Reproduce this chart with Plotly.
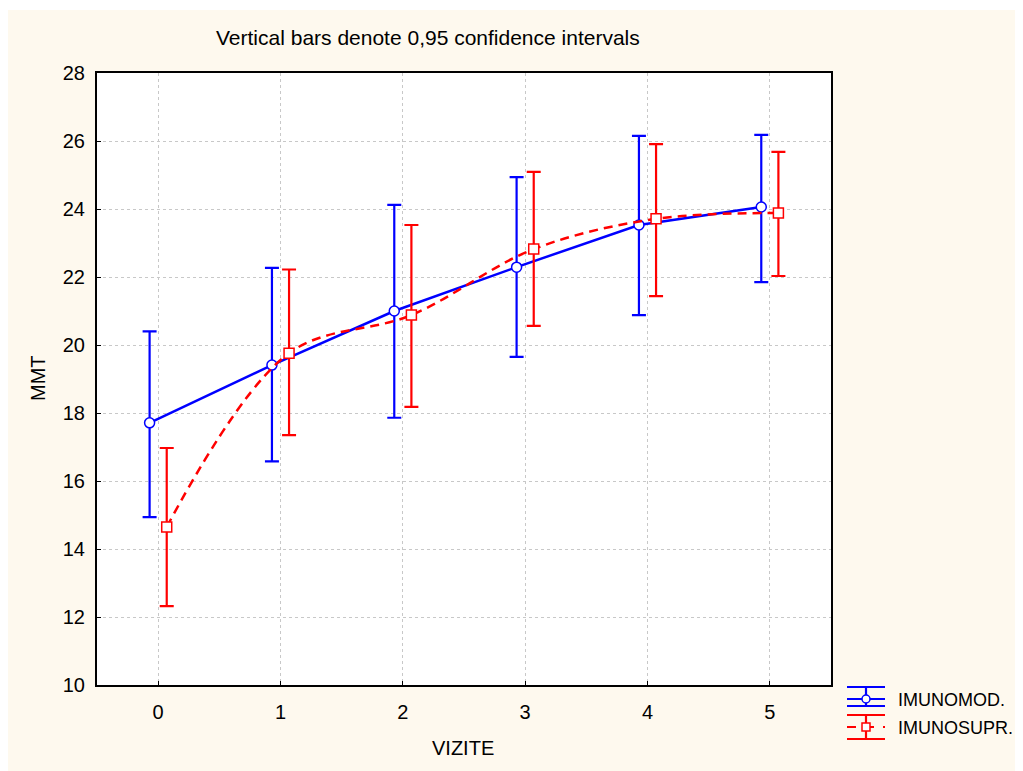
import plotly.graph_objects as go

visits = [0, 1, 2, 3, 4, 5]
tick_labels = ["0", "1", "2", "3", "4", "5"]

mod_mean = [17.71, 19.41, 21.00, 22.29, 23.53, 24.06]
mod_upper = [20.40, 22.27, 24.12, 24.94, 26.15, 26.18]
mod_lower = [14.94, 16.58, 17.86, 19.65, 20.88, 21.85]

sup_mean = [14.65, 19.76, 20.88, 22.82, 23.71, 23.88]
sup_upper = [16.97, 22.22, 23.53, 25.09, 25.91, 25.68]
sup_lower = [12.32, 17.35, 18.18, 20.56, 21.44, 22.03]

series_names = ["IMUNOMOD.", "IMUNOSUPR."]

BLUE = "#0000FF"
RED = "#FF0000"
CREAM = "#FEF9EE"
FONT = "Liberation Sans, Arial, sans-serif"

# page body margin offset (browser default 8px)
OFF = 8
W, H = 1023 - OFF, 771 - OFF
# plot area in reference page px
RL, RR, RT, RB = 97, 831, 73, 685
L, R, T, B = RL - OFF, RR - OFF, RT - OFF, RB - OFF


def px(x):  # reference page px -> paper
    return (x - OFF - L) / (R - L)


def py(y):
    return (B - (y - OFF)) / (B - T)


off = 0.07
fig = go.Figure()

fig.add_trace(go.Scatter(
    x=[v - off for v in visits], y=mod_mean, mode="lines+markers",
    name=series_names[0],
    line=dict(color=BLUE, width=2.5),
    marker=dict(symbol="circle", size=10, color="white", line=dict(color=BLUE, width=1.5)),
    error_y=dict(type="data", symmetric=False,
                 array=[u - m for u, m in zip(mod_upper, mod_mean)],
                 arrayminus=[m - l for m, l in zip(mod_mean, mod_lower)],
                 color=BLUE, thickness=2.2, width=7),
    showlegend=False,
))
fig.add_trace(go.Scatter(
    x=[v + off for v in visits], y=sup_mean, mode="lines+markers",
    name=series_names[1],
    line=dict(color=RED, width=2.5, dash="9px,6px", shape="spline", smoothing=1),
    marker=dict(symbol="square", size=10, color="white", line=dict(color=RED, width=1.5)),
    error_y=dict(type="data", symmetric=False,
                 array=[u - m for u, m in zip(sup_upper, sup_mean)],
                 arrayminus=[m - l for m, l in zip(sup_mean, sup_lower)],
                 color=RED, thickness=2.2, width=7),
    showlegend=False,
))

shapes = []
shapes.append(dict(type="rect", xref="paper", yref="paper", layer="below",
                   x0=px(7), x1=px(1030), y0=py(780), y1=py(10),
                   fillcolor=CREAM, line=dict(width=0)))
shapes.append(dict(type="rect", xref="paper", yref="paper", layer="below",
                   x0=0, x1=1, y0=0, y1=1, fillcolor="white", line=dict(width=0)))


def glyph(color, ytop, ymid, ybot, dash):
    g = []
    for yy in (ytop, ybot):
        g.append(dict(type="line", xref="paper", yref="paper",
                      x0=px(847), x1=px(885), y0=py(yy), y1=py(yy),
                      line=dict(color=color, width=2.2)))
    g.append(dict(type="line", xref="paper", yref="paper",
                  x0=px(866), x1=px(866), y0=py(ytop), y1=py(ybot),
                  line=dict(color=color, width=2.2)))
    g.append(dict(type="line", xref="paper", yref="paper",
                  x0=px(847), x1=px(885), y0=py(ymid), y1=py(ymid),
                  line=dict(color=color, width=2.2, dash=dash)))
    return g


shapes += glyph(BLUE, 687, 699, 706, "solid")
shapes += glyph(RED, 715, 727, 739, "dash")
shapes.append(dict(type="circle", xref="paper", yref="paper",
                   x0=px(862), x1=px(870), y0=py(695), y1=py(703),
                   fillcolor="white", line=dict(color=BLUE, width=1.5)))
shapes.append(dict(type="rect", xref="paper", yref="paper",
                   x0=px(862), x1=px(870), y0=py(723), y1=py(731),
                   fillcolor="white", line=dict(color=RED, width=1.5)))


def ann(text, x, y, size, xanchor="center", angle=0):
    return dict(text=text, xref="paper", yref="paper", x=px(x), y=py(y),
                showarrow=False, xanchor=xanchor, yanchor="middle", textangle=angle,
                font=dict(family=FONT, size=size, color="black"))


annotations = [
    ann("Vertical bars denote 0,95 confidence intervals", 428, 38, 21),
    ann(series_names[0], 896, 700, 18, "left"),
    ann(series_names[1], 896, 728, 18, "left"),
    ann("VIZITE", 463, 748, 20),
    ann("MMT", 38, 378, 20, angle=-90),
]

fig.update_layout(
    width=W, height=H,
    margin=dict(l=L, r=W - R, t=T, b=H - B, pad=0),
    paper_bgcolor="white", plot_bgcolor="rgba(0,0,0,0)",
    shapes=shapes, annotations=annotations,
    font=dict(family=FONT, size=20, color="black"),
    xaxis=dict(range=[-0.5, 5.5], tickvals=visits, ticktext=tick_labels,
               ticks="inside", ticklen=4, tickwidth=1, tickcolor="black",
               showline=True, linecolor="black", linewidth=2, mirror=True,
               showgrid=True, gridcolor="#c8c8c8", gridwidth=1, griddash="dot",
               zeroline=False, ticklabelstandoff=8,
               tickfont=dict(size=20)),
    yaxis=dict(range=[10, 28], dtick=2,
               ticks="inside", ticklen=4, tickwidth=1, tickcolor="black",
               showline=True, linecolor="black", linewidth=2, mirror=True,
               showgrid=True, gridcolor="#c8c8c8", gridwidth=1, griddash="dot",
               zeroline=False, ticklabelstandoff=6,
               tickfont=dict(size=20)),
)

fig.write_html("out.html")
